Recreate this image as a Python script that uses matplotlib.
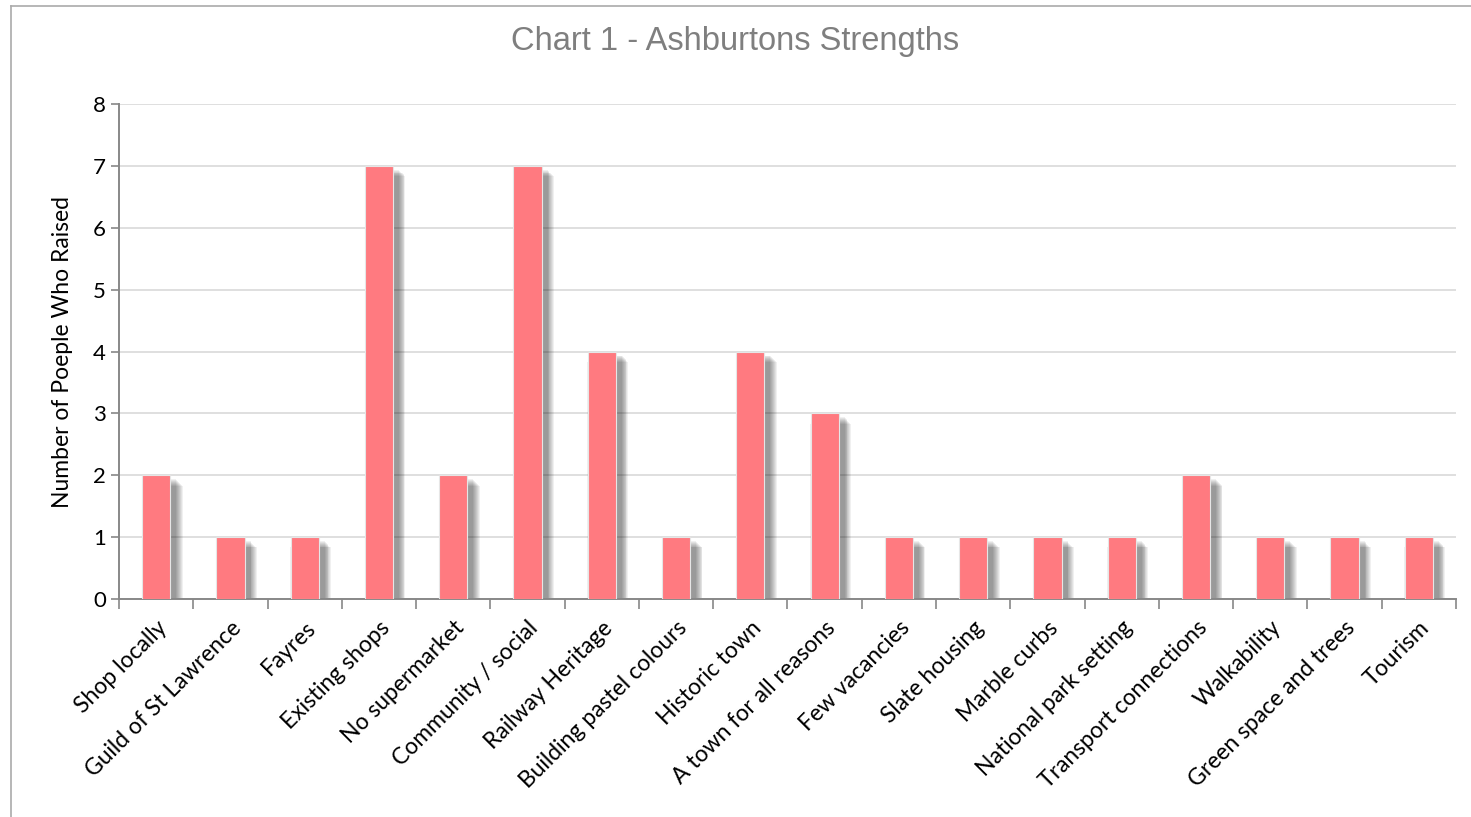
import matplotlib.pyplot as plt
import matplotlib.transforms as mtransforms
import numpy as np

categories = ["Shop locally", "Guild of St Lawrence", "Fayres", "Existing shops",
              "No supermarket", "Community / social", "Railway Heritage",
              "Building pastel colours", "Historic town", "A town for all reasons",
              "Few vacancies", "Slate housing", "Marble curbs", "National park setting",
              "Transport connections", "Walkability", "Green space and trees", "Tourism"]
counts = [2, 1, 1, 7, 2, 7, 4, 1, 4, 3, 1, 1, 1, 1, 2, 1, 1, 1]

fig = plt.figure(figsize=(14.71, 8.17), dpi=100)
ax = fig.add_axes([0.0809, 0.2668, 0.9089, 0.6059])

x = np.arange(len(categories))
width = 0.38
px_x = 1 / 74.3   # one pixel in x data units
px_y = 8 / 495    # one pixel in y data units

# soft drop shadow behind each bar, built from a few translucent layers
for k in range(8):
    grow = (7 - k) * 0.9
    ax.bar(x + 6 * px_x, counts, width + grow * 2 * px_x,
           bottom=-(4 + grow) * px_y, color='black', alpha=0.06,
           linewidth=0, zorder=2)
ax.bar(x, counts, width, color='#ff7a80', edgecolor='#e6e6e6', linewidth=0.8, zorder=3)

ax.set_xlim(-0.5, len(categories) - 0.5)
ax.set_ylim(0, 8)
ax.set_yticks(range(9))
ax.yaxis.grid(True, color='#d9d9d9', linewidth=1.2, zorder=0)

ax.set_xticks(x)
ax.set_xticklabels(categories, rotation=45, ha='right', rotation_mode='anchor',
                   fontsize=16.5, family='Lato')
shift = mtransforms.ScaledTranslation(-5 / 100, 0, fig.dpi_scale_trans)
for t in ax.get_xticklabels():
    t.set_transform(t.get_transform() + shift)
ax.set_xticks(np.arange(-0.5, len(categories)), minor=True)
ax.tick_params(axis='x', which='major', length=0, pad=13)
ax.tick_params(axis='x', which='minor', length=7, width=1.2, color='#888888')
ax.tick_params(axis='y', length=6, width=1.2, color='#888888', labelsize=16)
for t in ax.get_yticklabels():
    t.set_family('Lato')

for s in ['top', 'right']:
    ax.spines[s].set_visible(False)
for s in ['left', 'bottom']:
    ax.spines[s].set_color('#888888')
    ax.spines[s].set_linewidth(1.4)

ax.set_ylabel('Number of Poeple Who Raised', fontsize=16.5, family='Lato', labelpad=14)
fig.text(0.5, 0.949, 'Chart 1 - Ashburtons Strengths', ha='center', va='center',
         fontsize=23.5, color='#7f7f7f', family='Liberation Sans')

# outer border of the chart area
fig.add_artist(plt.Line2D([0.0075, 1.0], [0.9925, 0.9925], color='#aaaaaa', lw=1.2))
fig.add_artist(plt.Line2D([0.0075, 0.0075], [0.0, 0.9925], color='#aaaaaa', lw=1.2))

fig.savefig('out.png', dpi=100)
